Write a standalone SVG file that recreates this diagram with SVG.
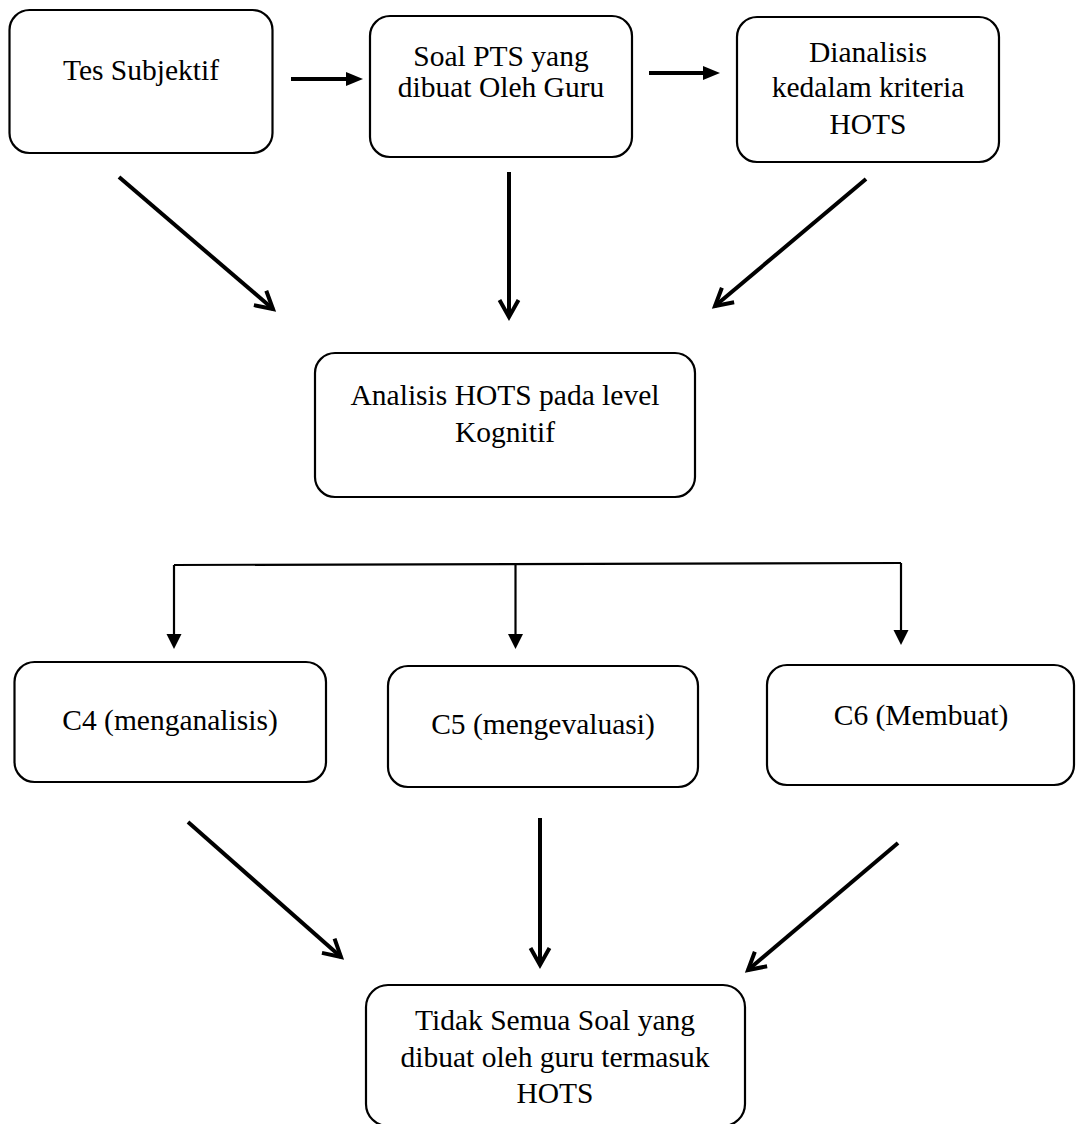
<svg xmlns="http://www.w3.org/2000/svg" width="1076" height="1124" viewBox="0 0 1076 1124">
<style>
.box{fill:#fff;stroke:#000;stroke-width:2.2}
text{font-family:'Liberation Serif','Times New Roman','DejaVu Serif',serif;font-size:29.5px;fill:#000;text-anchor:middle}
.thick{stroke:#000;stroke-width:4;fill:none}
.thin{stroke:#000;stroke-width:2.2;fill:none}
</style>
<defs>
<marker id="v" markerUnits="userSpaceOnUse" viewBox="-24 -14 30 28" markerWidth="30" markerHeight="28" refX="0" refY="0" orient="auto" overflow="visible">
<path d="M -17 -9.5 L 0 0 L -17 9.5" fill="none" stroke="#000" stroke-width="4" stroke-linejoin="miter"/>
</marker>
<marker id="tri" markerUnits="userSpaceOnUse" viewBox="0 -8 18 16" markerWidth="18" markerHeight="16" refX="1" refY="0" orient="auto" overflow="visible">
<path d="M 0 -7 L 17 0 L 0 7 Z" fill="#000"/>
</marker>
<marker id="tri2" markerUnits="userSpaceOnUse" viewBox="0 -8 16 16" markerWidth="16" markerHeight="16" refX="1" refY="0" orient="auto" overflow="visible">
<path d="M 0 -7.5 L 15 0 L 0 7.5 Z" fill="#000"/>
</marker>
</defs>
<g id="connectors">
<line class="thick" x1="291" y1="79" x2="347" y2="79" marker-end="url(#tri)"/>
<line class="thick" x1="649" y1="73" x2="704" y2="73" marker-end="url(#tri)"/>
<line class="thick" x1="119" y1="177" x2="273" y2="309" marker-end="url(#v)"/>
<line class="thick" x1="509" y1="172" x2="509" y2="317" marker-end="url(#v)"/>
<line class="thick" x1="866" y1="179" x2="715" y2="306" marker-end="url(#v)"/>
<polyline class="thin" points="174,565 901,563"/>
<line class="thin" x1="174" y1="565" x2="174" y2="635" marker-end="url(#tri2)"/>
<line class="thin" x1="515.5" y1="564" x2="515.5" y2="635" marker-end="url(#tri2)"/>
<line class="thin" x1="901" y1="563" x2="901" y2="631" marker-end="url(#tri2)"/>
<line class="thick" x1="188" y1="822" x2="341" y2="957" marker-end="url(#v)"/>
<line class="thick" x1="540" y1="818" x2="540" y2="965" marker-end="url(#v)"/>
<line class="thick" x1="898" y1="843" x2="748" y2="970" marker-end="url(#v)"/>
</g>
<g id="tes-subjektif">
<rect class="box" x="9.5" y="10" width="263" height="143" rx="20"/>
<text x="141" y="80">Tes Subjektif</text>
</g>
<g id="soal-pts">
<rect class="box" x="370" y="16" width="262" height="141" rx="20"/>
<text x="501" y="66">Soal PTS yang</text>
<text x="501" y="97">dibuat Oleh Guru</text>
</g>
<g id="dianalisis">
<rect class="box" x="737" y="17" width="262" height="145" rx="20"/>
<text x="868" y="62">Dianalisis</text>
<text x="868" y="97">kedalam kriteria</text>
<text x="868" y="134">HOTS</text>
</g>
<g id="analisis-hots">
<rect class="box" x="315" y="353" width="380" height="144" rx="20"/>
<text x="505" y="405">Analisis HOTS pada level</text>
<text x="505" y="442">Kognitif</text>
</g>
<g id="c4">
<rect class="box" x="14.5" y="662" width="311.5" height="120" rx="20"/>
<text x="170" y="730">C4 (menganalisis)</text>
</g>
<g id="c5">
<rect class="box" x="388" y="666" width="310" height="121" rx="20"/>
<text x="543" y="734">C5 (mengevaluasi)</text>
</g>
<g id="c6">
<rect class="box" x="767" y="665" width="307" height="120" rx="20"/>
<text x="921" y="725">C6 (Membuat)</text>
</g>
<g id="kesimpulan">
<rect class="box" x="366" y="985" width="379" height="141" rx="22"/>
<text x="555" y="1030">Tidak Semua Soal yang</text>
<text x="555" y="1067">dibuat oleh guru termasuk</text>
<text x="555" y="1103">HOTS</text>
</g>
</svg>
